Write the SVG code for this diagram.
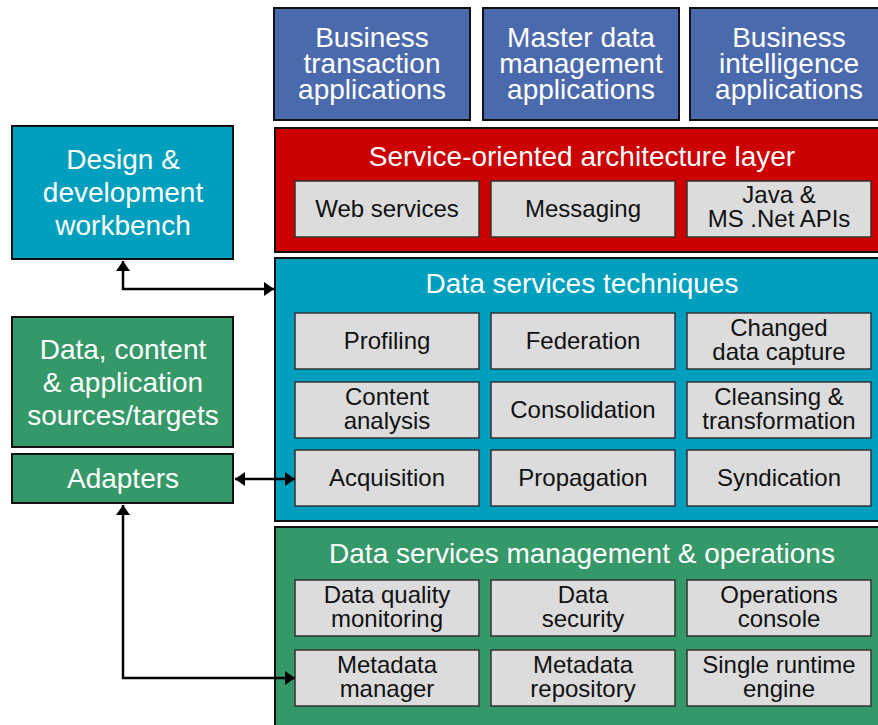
<svg xmlns="http://www.w3.org/2000/svg" width="878" height="725" viewBox="0 0 878 725">
  <style>
    text { font-family: "Liberation Sans", Arial, sans-serif; text-anchor: middle; }
    .lbl { font-size: 28px; fill: #ffffff; }
    .sub { font-size: 24px; fill: #111111; }
    .box { stroke: #111111; stroke-width: 2; }
    .app { fill: #4b6aad; }
    .red { fill: #cc0000; }
    .teal { fill: #009fbe; }
    .green { fill: #349868; }
    .cell { fill: #dcdcdc; stroke: #333333; stroke-width: 1.5; }
    .conn { fill: none; stroke: #000000; stroke-width: 2.5; }
  </style>
  <defs>
    <marker id="arrow" viewBox="0 0 10 14" refX="10" refY="7" markerWidth="10" markerHeight="14" markerUnits="userSpaceOnUse" orient="auto-start-reverse">
      <path d="M0,0 L10,7 L0,14 Z" fill="#000000"/>
    </marker>
  </defs>

  <rect width="878" height="725" fill="#ffffff"/>

  <!-- application tier -->
  <g id="business-transaction">
    <rect class="box app" x="274" y="8" width="196" height="112"/>
    <text class="lbl" x="372" y="47">Business</text>
    <text class="lbl" x="372" y="73">transaction</text>
    <text class="lbl" x="372" y="99">applications</text>
  </g>
  <g id="master-data">
    <rect class="box app" x="483" y="8" width="196" height="112"/>
    <text class="lbl" x="581" y="47">Master data</text>
    <text class="lbl" x="581" y="73">management</text>
    <text class="lbl" x="581" y="99">applications</text>
  </g>
  <g id="business-intelligence">
    <rect class="box app" x="690" y="8" width="200" height="112"/>
    <text class="lbl" x="789" y="47">Business</text>
    <text class="lbl" x="789" y="73">intelligence</text>
    <text class="lbl" x="789" y="99">applications</text>
  </g>

  <!-- service-oriented architecture layer -->
  <g id="soa-layer">
    <rect class="box red" x="275" y="128" width="615" height="124"/>
    <text class="lbl" x="582" y="166">Service-oriented architecture layer</text>
    <g id="web-services">
      <rect class="cell" x="295" y="181" width="184" height="56"/>
      <text class="sub" x="387" y="217">Web services</text>
    </g>
    <g id="messaging">
      <rect class="cell" x="491" y="181" width="184" height="56"/>
      <text class="sub" x="583" y="217">Messaging</text>
    </g>
    <g id="java-net-apis">
      <rect class="cell" x="687" y="181" width="184" height="56"/>
      <text class="sub" x="779" y="203">Java &amp;</text>
      <text class="sub" x="779" y="227">MS .Net APIs</text>
    </g>
  </g>

  <!-- data services techniques -->
  <g id="data-services-techniques">
    <rect class="box teal" x="275" y="258" width="615" height="263"/>
    <text class="lbl" x="582" y="293">Data services techniques</text>
    <g id="profiling">
      <rect class="cell" x="295" y="313" width="184" height="56"/>
      <text class="sub" x="387" y="349">Profiling</text>
    </g>
    <g id="federation">
      <rect class="cell" x="491" y="313" width="184" height="56"/>
      <text class="sub" x="583" y="349">Federation</text>
    </g>
    <g id="changed-data-capture">
      <rect class="cell" x="687" y="313" width="184" height="56"/>
      <text class="sub" x="779" y="336">Changed</text>
      <text class="sub" x="779" y="360">data capture</text>
    </g>
    <g id="content-analysis">
      <rect class="cell" x="295" y="382" width="184" height="56"/>
      <text class="sub" x="387" y="405">Content</text>
      <text class="sub" x="387" y="429">analysis</text>
    </g>
    <g id="consolidation">
      <rect class="cell" x="491" y="382" width="184" height="56"/>
      <text class="sub" x="583" y="418">Consolidation</text>
    </g>
    <g id="cleansing-transformation">
      <rect class="cell" x="687" y="382" width="184" height="56"/>
      <text class="sub" x="779" y="405">Cleansing &amp;</text>
      <text class="sub" x="779" y="429">transformation</text>
    </g>
    <g id="acquisition">
      <rect class="cell" x="295" y="450" width="184" height="56"/>
      <text class="sub" x="387" y="486">Acquisition</text>
    </g>
    <g id="propagation">
      <rect class="cell" x="491" y="450" width="184" height="56"/>
      <text class="sub" x="583" y="486">Propagation</text>
    </g>
    <g id="syndication">
      <rect class="cell" x="687" y="450" width="184" height="56"/>
      <text class="sub" x="779" y="486">Syndication</text>
    </g>
  </g>

  <!-- data services management & operations -->
  <g id="management-operations">
    <rect class="box green" x="275" y="527" width="615" height="210"/>
    <text class="lbl" x="582" y="563">Data services management &amp; operations</text>
    <g id="data-quality-monitoring">
      <rect class="cell" x="295" y="580" width="184" height="56"/>
      <text class="sub" x="387" y="603">Data quality</text>
      <text class="sub" x="387" y="627">monitoring</text>
    </g>
    <g id="data-security">
      <rect class="cell" x="491" y="580" width="184" height="56"/>
      <text class="sub" x="583" y="603">Data</text>
      <text class="sub" x="583" y="627">security</text>
    </g>
    <g id="operations-console">
      <rect class="cell" x="687" y="580" width="184" height="56"/>
      <text class="sub" x="779" y="603">Operations</text>
      <text class="sub" x="779" y="627">console</text>
    </g>
    <g id="metadata-manager">
      <rect class="cell" x="295" y="650" width="184" height="56"/>
      <text class="sub" x="387" y="673">Metadata</text>
      <text class="sub" x="387" y="697">manager</text>
    </g>
    <g id="metadata-repository">
      <rect class="cell" x="491" y="650" width="184" height="56"/>
      <text class="sub" x="583" y="673">Metadata</text>
      <text class="sub" x="583" y="697">repository</text>
    </g>
    <g id="single-runtime-engine">
      <rect class="cell" x="687" y="650" width="184" height="56"/>
      <text class="sub" x="779" y="673">Single runtime</text>
      <text class="sub" x="779" y="697">engine</text>
    </g>
  </g>

  <!-- left-hand components -->
  <g id="design-workbench">
    <rect class="box teal" x="12" y="126" width="221" height="133"/>
    <text class="lbl" x="123" y="169">Design &amp;</text>
    <text class="lbl" x="123" y="202">development</text>
    <text class="lbl" x="123" y="235">workbench</text>
  </g>
  <g id="sources-targets">
    <rect class="box green" x="12" y="317" width="221" height="130"/>
    <text class="lbl" x="123" y="359">Data, content</text>
    <text class="lbl" x="123" y="392">&amp; application</text>
    <text class="lbl" x="123" y="425">sources/targets</text>
  </g>
  <g id="adapters">
    <rect class="box green" x="12" y="454" width="221" height="49"/>
    <text class="lbl" x="123" y="488">Adapters</text>
  </g>

  <!-- connectors -->
  <g id="connectors">
    <path class="conn" d="M123,261 V289 H274" marker-start="url(#arrow)" marker-end="url(#arrow)"/>
    <path class="conn" d="M235,479 H295" marker-start="url(#arrow)" marker-end="url(#arrow)"/>
    <path class="conn" d="M123,505 V678 H295" marker-start="url(#arrow)" marker-end="url(#arrow)"/>
  </g>
</svg>
